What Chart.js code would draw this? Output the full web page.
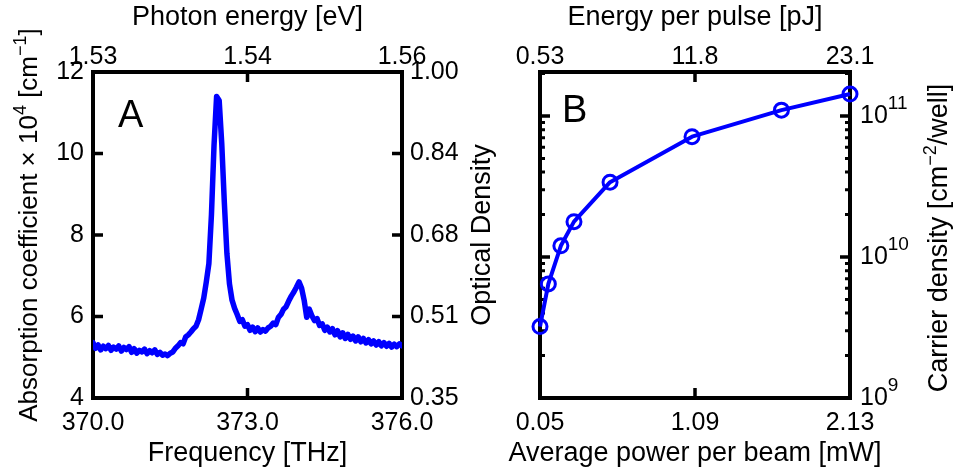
<!DOCTYPE html>
<html>
<head>
  <title>Absorption spectrum and carrier density</title>
  <script src="https://cdn.jsdelivr.net/npm/chart.js"></script>
  <style>
    body {
      margin: 0;
      background: #fff;
    }
    #wrap {
      position: relative;
      width: 955px;
      height: 472px;
    }
    canvas {
      position: absolute;
      top: 0;
    }
    #specChart { left: 0; }
    #densChart { left: 480px; }
  </style>
</head>
<body>
<div id="wrap">
  <canvas id="specChart" width="510" height="472"></canvas>
  <canvas id="densChart" width="475" height="472"></canvas>
</div>

<script>
  // Panel A: absorption spectrum, sampled every 0.05 THz from 370.00 to 376.00
  const absorption = [
    5.36, 5.22, 5.30, 5.18, 5.27, 5.21, 5.29, 5.17, 5.25, 5.20,
    5.28, 5.15, 5.24, 5.19, 5.26, 5.12, 5.21, 5.10, 5.17, 5.13,
    5.20, 5.09, 5.16, 5.11, 5.18, 5.07, 5.12, 5.05, 5.08, 5.04,
    5.10, 5.13, 5.22, 5.28, 5.36, 5.33, 5.50, 5.55, 5.62, 5.70,
    5.76, 5.92, 6.18, 6.45, 6.85, 7.30, 8.50, 10.20, 11.40, 11.30,
    10.25, 8.80, 7.55, 6.80, 6.40, 6.20, 6.05, 5.88, 5.92, 5.76,
    5.80, 5.66, 5.74, 5.63, 5.72, 5.62, 5.68, 5.64, 5.72, 5.76,
    5.84, 5.80, 5.98, 6.05, 6.18, 6.24, 6.38, 6.50, 6.60, 6.72,
    6.85, 6.70, 6.40, 5.98, 6.18, 6.02, 5.90, 5.95, 5.78, 5.82,
    5.66, 5.74, 5.62, 5.70, 5.55, 5.65, 5.50, 5.60, 5.46, 5.56,
    5.44, 5.52, 5.40, 5.50, 5.38, 5.46, 5.35, 5.43, 5.33, 5.40,
    5.30, 5.38, 5.28, 5.36, 5.27, 5.34, 5.25, 5.32, 5.26, 5.33,
    5.28
  ];
  const freqStart = 370.0;
  const freqStep = 0.05;
  const freqTicks = [370, 373, 376];
  const photonTickLabels = ['1.53', '1.54', '1.56'];
  const absTicks = [4, 6, 8, 10, 12];
  const odTickLabels = ['0.35', '0.51', '0.68', '0.84', '1.00'];

  // Panel B: carrier density vs. average power
  const power = [0.05, 0.106, 0.19, 0.278, 0.52, 1.07, 1.67, 2.13];
  const density = [3.21e9, 6.44e9, 1.20e10, 1.78e10, 3.39e10, 7.13e10, 1.10e11, 1.43e11];
  const powerTicks = [0.05, 1.09, 2.13];
  const pulseTickLabels = ['0.53', '11.8', '23.1'];
  const densityTicks = [1e9, 1e10, 1e11];
  const densityExponents = ['9', '10', '11'];

  const family = '"Liberation Sans", Arial, Helvetica, sans-serif';
  const black = '#000';
  const blue = '#0000ff';
  const tickFont = { family: family, size: 25 };
  const titleSize = 27;

  // draw text with superscript parts, centered on (x, y) baseline
  function richText(ctx, parts, x, y, size, rotate) {
    ctx.save();
    ctx.translate(x, y);
    if (rotate) ctx.rotate(-Math.PI / 2);
    const fontOf = p => (p.sup ? Math.round(size * 0.68) : size) + 'px ' + family;
    let total = 0;
    parts.forEach(p => { ctx.font = fontOf(p); total += ctx.measureText(p.t).width; });
    let cx = -total / 2;
    ctx.fillStyle = black;
    ctx.textAlign = 'left';
    ctx.textBaseline = 'alphabetic';
    parts.forEach(p => {
      ctx.font = fontOf(p);
      ctx.fillText(p.t, cx, p.sup ? -size * 0.42 : 0);
      cx += ctx.measureText(p.t).width;
    });
    ctx.restore();
  }

  function frame(ctx, a) {
    ctx.strokeStyle = black;
    ctx.lineWidth = 4;
    ctx.strokeRect(a.left, a.top, a.right - a.left, a.bottom - a.top);
  }

  function hTick(ctx, a, y, len) {
    ctx.moveTo(a.left, y); ctx.lineTo(a.left + len, y);
    ctx.moveTo(a.right, y); ctx.lineTo(a.right - len, y);
  }

  function vTick(ctx, a, x, len) {
    ctx.moveTo(x, a.top); ctx.lineTo(x, a.top + len);
    ctx.moveTo(x, a.bottom); ctx.lineTo(x, a.bottom - len);
  }

  function axisDefaults() {
    return {
      grid: { display: false, drawTicks: false },
      border: { display: false }
    };
  }

  // ---------- Panel A ----------
  const panelA = {
    id: 'panelA',
    beforeDatasetsDraw(chart) {
      const { ctx, chartArea: a, scales } = chart;
      ctx.save();
      frame(ctx, a);
      ctx.lineWidth = 3.5;
      ctx.beginPath();
      absTicks.slice(1, -1).forEach(v => hTick(ctx, a, scales.y.getPixelForValue(v), 10));
      vTick(ctx, a, scales.x.getPixelForValue(freqTicks[1]), 10);
      ctx.stroke();
      ctx.restore();
    },
    afterDraw(chart) {
      const ctx = chart.ctx;
      ctx.save();
      ctx.fillStyle = black;
      ctx.font = '38px ' + family;
      ctx.fillText('A', 118, 127);
      ctx.restore();
      const cx = (chart.chartArea.left + chart.chartArea.right) / 2;
      richText(ctx, [{ t: 'Photon energy [eV]' }], cx, 25, titleSize);
      richText(ctx, [{ t: 'Frequency [THz]' }], cx, 461, titleSize);
      richText(ctx, [
        { t: 'Absorption coefficient \u00d7 10' }, { t: '4', sup: true },
        { t: ' [cm' }, { t: '\u22121', sup: true }, { t: ']' }
      ], 37, 225, 26, true);
      richText(ctx, [{ t: 'Optical Density' }], 490, 235, titleSize, true);
    }
  };

  new Chart(document.getElementById('specChart'), {
    type: 'line',
    data: {
      datasets: [{
        data: absorption.map((v, i) => ({ x: freqStart + i * freqStep, y: v })),
        borderColor: blue,
        borderWidth: 5.5,
        borderJoinStyle: 'round',
        borderCapStyle: 'round',
        pointRadius: 0,
        tension: 0,
        xAxisID: 'x',
        yAxisID: 'y'
      }]
    },
    options: {
      responsive: false,
      animation: false,
      layout: { padding: 0 },
      plugins: { legend: { display: false }, tooltip: { enabled: false } },
      scales: {
        x: {
          ...axisDefaults(), type: 'linear', position: 'bottom', min: 370, max: 376,
          afterBuildTicks: s => { s.ticks = freqTicks.map(v => ({ value: v })); },
          afterFit: s => { s.height = 74; },
          ticks: { autoSkip: false, maxRotation: 0, padding: 10, color: black, font: tickFont,
                   callback: v => v.toFixed(1) }
        },
        xTop: {
          ...axisDefaults(), axis: 'x', type: 'linear', position: 'top', min: 370, max: 376,
          afterBuildTicks: s => { s.ticks = freqTicks.map(v => ({ value: v })); },
          afterFit: s => { s.height = 72; },
          ticks: { autoSkip: false, maxRotation: 0, padding: 0, color: black, font: tickFont,
                   callback: (v, i) => photonTickLabels[i] }
        },
        y: {
          ...axisDefaults(), type: 'linear', position: 'left', min: 4, max: 12,
          afterBuildTicks: s => { s.ticks = absTicks.map(v => ({ value: v })); },
          afterFit: s => { s.width = 93; },
          ticks: { autoSkip: false, padding: 9, color: black, font: tickFont }
        },
        yRight: {
          ...axisDefaults(), axis: 'y', type: 'linear', position: 'right', min: 4, max: 12,
          afterBuildTicks: s => { s.ticks = absTicks.map(v => ({ value: v })); },
          afterFit: s => { s.width = 108; },
          ticks: { autoSkip: false, padding: 8, color: black, font: tickFont,
                   callback: (v, i) => odTickLabels[i] }
        }
      }
    },
    plugins: [panelA]
  });

  // ---------- Panel B ----------
  const panelB = {
    id: 'panelB',
    beforeDatasetsDraw(chart) {
      const { ctx, chartArea: a, scales } = chart;
      ctx.save();
      frame(ctx, a);
      ctx.lineWidth = 3.5;
      ctx.beginPath();
      densityTicks.slice(1).forEach(v => hTick(ctx, a, scales.y.getPixelForValue(v), 10));
      vTick(ctx, a, scales.x.getPixelForValue(powerTicks[1]), 10);
      ctx.stroke();
      // minor log ticks
      ctx.lineWidth = 3;
      ctx.beginPath();
      [1e9, 1e10, 1e11].forEach(dec => {
        for (let m = 2; m <= 9; m++) {
          const v = m * dec;
          if (v > scales.y.max) break;
          hTick(ctx, a, scales.y.getPixelForValue(v), 5);
        }
      });
      ctx.stroke();
      ctx.restore();
    },
    afterDraw(chart) {
      const { ctx, chartArea: a, scales } = chart;
      ctx.save();
      ctx.fillStyle = black;
      ctx.font = '38px ' + family;
      ctx.fillText('B', 82, 122);
      // exponents of the "10" tick labels
      ctx.font = tickFont.size + 'px ' + family;
      const baseW = ctx.measureText('10').width;
      ctx.font = '19px ' + family;
      ctx.textBaseline = 'middle';
      densityTicks.forEach((v, i) => {
        ctx.fillText(densityExponents[i], a.right + 10 + baseW, scales.y.getPixelForValue(v) - 12);
      });
      ctx.restore();
      const cx = (a.left + a.right) / 2;
      richText(ctx, [{ t: 'Energy per pulse [pJ]' }], cx, 25, titleSize);
      richText(ctx, [{ t: 'Average power per beam [mW]' }], cx, 461, titleSize);
      richText(ctx, [
        { t: 'Carrier density [cm' }, { t: '\u22122', sup: true }, { t: '/well]' }
      ], 467, 238, titleSize, true);
    }
  };

  new Chart(document.getElementById('densChart'), {
    type: 'line',
    data: {
      datasets: [{
        data: power.map((p, i) => ({ x: p, y: density[i] })),
        borderColor: blue,
        borderWidth: 4,
        borderJoinStyle: 'round',
        pointStyle: 'circle',
        pointRadius: 7,
        pointBorderWidth: 3,
        pointBorderColor: blue,
        pointBackgroundColor: 'rgba(0,0,0,0)',
        tension: 0,
        clip: false,
        xAxisID: 'x',
        yAxisID: 'y'
      }]
    },
    options: {
      responsive: false,
      animation: false,
      layout: { padding: { left: 60 } },
      plugins: { legend: { display: false }, tooltip: { enabled: false } },
      scales: {
        x: {
          ...axisDefaults(), type: 'linear', position: 'bottom', min: 0.05, max: 2.13,
          afterBuildTicks: s => { s.ticks = powerTicks.map(v => ({ value: v })); },
          afterFit: s => { s.height = 74; },
          ticks: { autoSkip: false, maxRotation: 0, padding: 10, color: black, font: tickFont,
                   callback: v => v.toFixed(2) }
        },
        xTop: {
          ...axisDefaults(), axis: 'x', type: 'linear', position: 'top', min: 0.05, max: 2.13,
          afterBuildTicks: s => { s.ticks = powerTicks.map(v => ({ value: v })); },
          afterFit: s => { s.height = 72; },
          ticks: { autoSkip: false, maxRotation: 0, padding: 0, color: black, font: tickFont,
                   callback: (v, i) => pulseTickLabels[i] }
        },
        y: {
          ...axisDefaults(), type: 'logarithmic', position: 'right', min: 1e9, max: 2.05e11,
          afterBuildTicks: s => { s.ticks = densityTicks.map(v => ({ value: v })); },
          afterFit: s => { s.width = 105; },
          ticks: { autoSkip: false, padding: 10, color: black, font: tickFont,
                   callback: () => '10' }
        }
      }
    },
    plugins: [panelB]
  });
</script>
</body>
</html>
